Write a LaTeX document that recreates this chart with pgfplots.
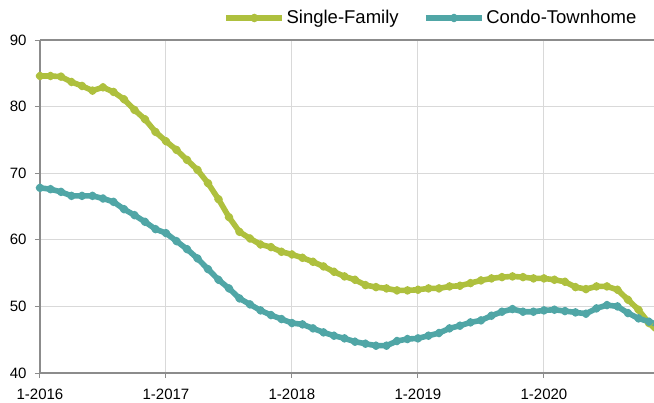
\documentclass[border=0pt]{standalone}
\usepackage{pgfplots}
\pgfplotsset{compat=1.18}
\usepackage{fontspec}
\setmainfont{Liberation Sans}
\definecolor{sfgreen}{RGB}{174,192,62}
\definecolor{sfgreenD}{RGB}{166,184,54}
\definecolor{ctteal}{RGB}{80,166,166}
\definecolor{cttealD}{RGB}{74,160,160}
\definecolor{axgray}{RGB}{140,140,140}
\definecolor{gridgray}{RGB}{217,217,217}
\begin{document}
\begin{tikzpicture}
\path[use as bounding box] (-40bp,-30bp) rectangle (614bp,373bp);
\begin{axis}[
 scale only axis, width=614bp, height=333bp,
 xmin=0, xmax=58.48, ymin=40, ymax=90,
 axis x line*=bottom, axis y line*=left,
 axis line style={axgray, line width=1.2bp, -},
 xtick={0,12,24,36,48}, xticklabels={1-2016,1-2017,1-2018,1-2019,1-2020},
 ytick={40,50,...,90},
 extra y ticks={90}, extra y tick labels={},
 extra y tick style={grid style={axgray, line width=1.2bp}},
 tick align=outside, major tick length=5bp,
 tick style={axgray, line width=1bp},
 xmajorgrids, ymajorgrids,
 grid style={gridgray, line width=1bp},
 ticklabel style={font=\fontsize{15bp}{18bp}\selectfont, text=black},
 xticklabel style={yshift=-8bp},
 yticklabel style={xshift=-5bp},
 /pgf/number format/assume math mode=true,
 clip=false,
 legend columns=2,
 legend style={draw=none, fill=none, at={(axis description cs:0.979,1)}, anchor=east, yshift=22bp,
   font=\fontsize{18.5bp}{21bp}\selectfont, nodes={inner sep=1.5bp},
   /tikz/every even column/.append style={column sep=23bp}},
 legend image code/.code={\draw[#1, mark repeat=2, mark phase=2] plot coordinates {(0bp,0bp) (28bp,0bp) (56bp,0bp)};},
]
\addplot[sfgreen, line width=5.6bp, line join=round, mark=*, mark size=1.5bp, mark options={draw=none, fill=sfgreenD}] coordinates {
(0,84.6)(1,84.6)(2,84.5)(3,83.7)(4,83.1)(5,82.4)(6,82.9)(7,82.2)(8,81.1)(9,79.5)
(10,78.1)(11,76.2)(12,74.8)(13,73.5)(14,72.0)(15,70.5)(16,68.5)(17,66.1)(18,63.4)(19,61.2)
(20,60.2)(21,59.3)(22,58.9)(23,58.2)(24,57.8)(25,57.3)(26,56.7)(27,56.0)(28,55.2)(29,54.5)
(30,54.0)(31,53.2)(32,52.9)(33,52.7)(34,52.4)(35,52.4)(36,52.5)(37,52.7)(38,52.7)(39,53.0)
(40,53.1)(41,53.5)(42,53.9)(43,54.2)(44,54.4)(45,54.5)(46,54.4)(47,54.2)(48,54.2)(49,54.0)
(50,53.7)(51,52.9)(52,52.6)(53,53.0)(54,53.0)(55,52.5)(56,51.0)(57,49.5)(58,47.5)(59,46.0)
};
\addlegendentry{Single-Family}
\addplot[ctteal, line width=5.6bp, line join=round, mark=*, mark size=1.5bp, mark options={draw=none, fill=cttealD}] coordinates {
(0,67.8)(1,67.6)(2,67.2)(3,66.6)(4,66.6)(5,66.6)(6,66.2)(7,65.7)(8,64.6)(9,63.7)
(10,62.7)(11,61.6)(12,61.0)(13,59.8)(14,58.6)(15,57.2)(16,55.6)(17,54.0)(18,52.7)(19,51.2)
(20,50.3)(21,49.4)(22,48.7)(23,48.1)(24,47.5)(25,47.3)(26,46.7)(27,46.1)(28,45.6)(29,45.2)
(30,44.7)(31,44.4)(32,44.1)(33,44.1)(34,44.8)(35,45.1)(36,45.2)(37,45.6)(38,46.0)(39,46.7)
(40,47.1)(41,47.6)(42,47.9)(43,48.6)(44,49.2)(45,49.6)(46,49.2)(47,49.2)(48,49.4)(49,49.5)
(50,49.3)(51,49.1)(52,48.9)(53,49.7)(54,50.2)(55,50.0)(56,49.0)(57,48.2)(58,47.7)(59,47.2)
};
\addlegendentry{Condo-Townhome}
\end{axis}
\end{tikzpicture}
\end{document}
